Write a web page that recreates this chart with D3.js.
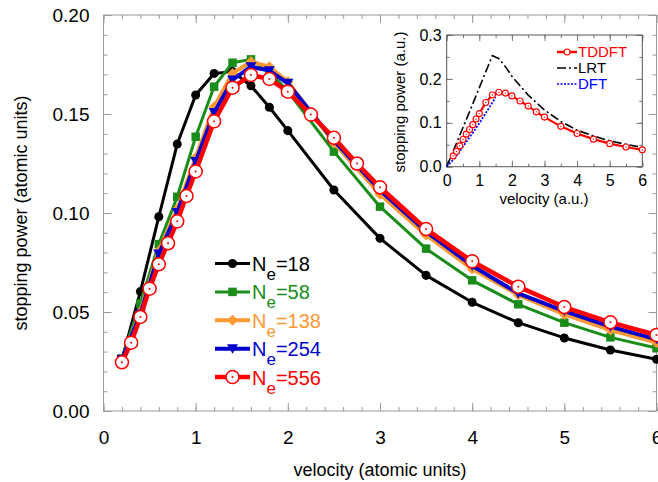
<!DOCTYPE html>
<html>
<head>
<meta charset="utf-8">
<script src="https://d3js.org/d3.v7.min.js"></script>
<style>
  body { margin: 0; background: #fff; }
  svg { display: block; font-family: "Liberation Sans", Arial, Helvetica, sans-serif; }
</style>
</head>
<body>
<script>
"use strict";
/* velocities (atomic units) */
var vFine = [0.2, 0.3, 0.4, 0.5, 0.6, 0.7, 0.8, 0.9, 1.0, 1.2, 1.4, 1.6, 1.8, 2.0, 2.25, 2.5, 2.75, 3.0, 3.5, 4.0, 4.5, 5.0, 5.5, 6.0];
var vCoarse = [0.2, 0.4, 0.6, 0.8, 1.0, 1.2, 1.4, 1.6, 1.8, 2.0, 2.5, 3.0, 3.5, 4.0, 4.5, 5.0, 5.5, 6.0];

/* stopping power for each electron count */
var sp18  = [0.026, 0.0603, 0.0981, 0.1348, 0.1596, 0.1705, 0.1714, 0.1643, 0.1534, 0.1416, 0.1116, 0.0872, 0.0685, 0.0549, 0.0446, 0.0369, 0.0308, 0.0261];
var sp58  = [0.0266, 0.0544, 0.0843, 0.1082, 0.1385, 0.1638, 0.1759, 0.1776, 0.1715, 0.1615, 0.131, 0.1032, 0.082, 0.066, 0.0539, 0.0446, 0.0372, 0.0318];
var sp138 = [0.026, 0.050, 0.0808, 0.102, 0.128, 0.1537, 0.1705, 0.1764, 0.1739, 0.1663, 0.1355, 0.1095, 0.0889, 0.0717, 0.0586, 0.0488, 0.0409, 0.0345];
var sp254 = [0.026, 0.049, 0.0793, 0.1003, 0.126, 0.1507, 0.1672, 0.1739, 0.1719, 0.1655, 0.1365, 0.1115, 0.0906, 0.0734, 0.0594, 0.0505, 0.0426, 0.0362];
var sp556 = [0.0246, 0.0345, 0.0475, 0.0618, 0.0741, 0.0847, 0.0958, 0.1086, 0.121, 0.1463, 0.1633, 0.1697, 0.1677, 0.1613, 0.1497, 0.138, 0.125, 0.113, 0.0919, 0.0756, 0.0628, 0.0525, 0.0448, 0.0384];

/* inset: linear response and DFT */
var lrtV = [0, 0.7, 1.4, 1.6, 1.8, 2.0, 2.5, 3.0, 3.5, 4.0, 4.5, 5.0, 5.5, 6.0];
var lrtS = [0, 0.125, 0.253, 0.246, 0.228, 0.206, 0.163, 0.129, 0.103, 0.083, 0.07, 0.059, 0.051, 0.044];
var dftV = [0, 0.25, 0.5, 0.75, 1.0, 1.25, 1.5];
var dftS = [0, 0.02, 0.046, 0.072, 0.099, 0.128, 0.158];

var seriesNames = ["18", "58", "138", "254", "556"];
var seriesColors = ["#000000", "#1a8c1a", "#ff9933", "#0000cc", "#ff0000"];
var xTicks = [0, 1, 2, 3, 4, 5, 6];
var yTicks = [0, 0.05, 0.10, 0.15, 0.20];
var insetYTicks = [0, 0.1, 0.2, 0.3];
var insetLegend = ["TDDFT", "LRT", "DFT"];

var width = 658, height = 482;
var svg = d3.select("body").append("svg").attr("width", width).attr("height", height);

function zip(v, s) { return v.map(function (d, i) { return [d, s[i]]; }); }

/* draws a boxed frame with inward ticks on all four sides */
function drawFrame(g, xs, ys, o) {
    var x0 = xs.range()[0], x1 = xs.range()[1];
    var y0 = ys.range()[0], y1 = ys.range()[1];
    var sides = [
        [d3.axisBottom(xs), "translate(0," + y0 + ")", o.xMinor, o.xMajor],
        [d3.axisTop(xs), "translate(0," + y1 + ")", o.xMinor, o.xMajor],
        [d3.axisLeft(ys), "translate(" + x0 + ",0)", o.yMinor, o.yMajor],
        [d3.axisRight(ys), "translate(" + x1 + ",0)", o.yMinor, o.yMajor]
    ];
    sides.forEach(function (s) {
        var ax = s[0];
        var gm = g.append("g").attr("transform", s[1])
            .call(ax.tickValues(s[2]).tickSize(-o.minorLen).tickFormat(""));
        gm.select(".domain").remove();
        gm.selectAll("line").attr("stroke", o.tickColor);
        var gM = g.append("g").attr("transform", s[1])
            .call(ax.tickValues(s[3]).tickSize(-o.majorLen).tickFormat(""));
        gM.select(".domain").remove();
        gM.selectAll("line").attr("stroke", o.tickColor);
    });
    g.append("rect").attr("x", x0).attr("y", y1)
        .attr("width", x1 - x0).attr("height", y0 - y1)
        .attr("fill", "none").attr("stroke", o.frameColor).attr("stroke-width", 1);

    var bl = g.append("g").attr("transform", "translate(0," + y0 + ")")
        .call(d3.axisBottom(xs).tickValues(o.xMajor).tickSize(0).tickPadding(o.xPad).tickFormat(o.xFmt));
    bl.select(".domain").remove();
    bl.selectAll("text").attr("font-size", o.font).attr("fill", "#000")
        .attr("font-family", "Liberation Sans, Arial, sans-serif");
    var ll = g.append("g").attr("transform", "translate(" + x0 + ",0)")
        .call(d3.axisLeft(ys).tickValues(o.yMajor).tickSize(0).tickPadding(o.yPad).tickFormat(o.yFmt));
    ll.select(".domain").remove();
    ll.selectAll("text").attr("font-size", o.font).attr("fill", "#000")
        .attr("font-family", "Liberation Sans, Arial, sans-serif");
}

function markerPath(i) {
    if (i === 0) return d3.symbol().type(d3.symbolCircle).size(64)();
    if (i === 1) return d3.symbol().type(d3.symbolSquare).size(72)();
    if (i === 2) { var a = 5.5; return "M0," + (-a) + "L" + a + ",0L0," + a + "L" + (-a) + ",0Z"; }
    if (i === 3) { return "M-5.5,-4.5L5.5,-4.5L0,5Z"; }
    return null;
}

function drawMarker(g, i, px, py) {
    if (i === 4) {
        g.append("circle").attr("cx", px).attr("cy", py).attr("r", 6.5)
            .attr("fill", "#fff").attr("stroke", seriesColors[4]).attr("stroke-width", 1.5);
        g.append("circle").attr("cx", px).attr("cy", py).attr("r", 1)
            .attr("fill", seriesColors[4]);
    } else {
        g.append("path").attr("d", markerPath(i))
            .attr("transform", "translate(" + px + "," + py + ")")
            .attr("fill", seriesColors[i]);
    }
}

/* ---------- main chart ---------- */
var x = d3.scaleLinear().domain([0, 6]).range([103.5, 656.5]);
var y = d3.scaleLinear().domain([0, 0.2]).range([411, 15]);

var main = svg.append("g");
drawFrame(main, x, y, {
    xMajor: xTicks, xMinor: d3.range(0, 6.01, 0.2),
    yMajor: yTicks, yMinor: d3.range(0, 0.2001, 0.01),
    majorLen: 8, minorLen: 4, tickColor: "#999", frameColor: "#999",
    font: "19px", xPad: 20, yPad: 14,
    xFmt: d3.format("d"), yFmt: d3.format(".2f")
});

main.append("text").attr("x", 380).attr("y", 470).attr("dy", "0.35em")
    .attr("text-anchor", "middle").attr("font-size", "18px").text("velocity (atomic units)");
main.append("text").attr("transform", "translate(21,213) rotate(-90)").attr("dy", "0.35em")
    .attr("text-anchor", "middle").attr("font-size", "18px").text("stopping power (atomic units)");

var allSeries = [zip(vCoarse, sp18), zip(vCoarse, sp58), zip(vCoarse, sp138), zip(vCoarse, sp254), zip(vFine, sp556)];
var lineWidths = [3, 3, 4, 4, 4.5];
var line = d3.line().x(function (d) { return x(d[0]); }).y(function (d) { return y(d[1]); });

allSeries.forEach(function (data, i) {
    var g = main.append("g");
    g.append("path").datum(data).attr("d", line)
        .attr("fill", "none").attr("stroke", seriesColors[i])
        .attr("stroke-width", lineWidths[i]).attr("stroke-linejoin", "round");
    data.forEach(function (d) { drawMarker(g, i, x(d[0]), y(d[1])); });
});

/* legend */
var leg = main.append("g");
seriesNames.forEach(function (n, i) {
    var ry = 263.5 + i * 28.4;
    leg.append("line").attr("x1", 215).attr("x2", 250).attr("y1", ry).attr("y2", ry)
        .attr("stroke", seriesColors[i]).attr("stroke-width", lineWidths[i]);
    drawMarker(leg, i, 232.5, ry);
    var t = leg.append("text").attr("x", 252).attr("y", ry + 7.5)
        .attr("fill", seriesColors[i]).attr("font-size", "20px");
    t.append("tspan").text("N");
    t.append("tspan").attr("dy", 9).attr("font-size", "17px").text("e");
    t.append("tspan").attr("dy", -9).text("=" + n);
});

/* ---------- inset ---------- */
var xi = d3.scaleLinear().domain([0, 6]).range([446.7, 642.3]);
var yi = d3.scaleLinear().domain([0, 0.3]).range([166.7, 35]);
var inset = svg.append("g");
inset.append("rect").attr("x", 446.7).attr("y", 35).attr("width", 195.6).attr("height", 131.7).attr("fill", "#fff");
drawFrame(inset, xi, yi, {
    xMajor: xTicks, xMinor: d3.range(0, 6.01, 0.5),
    yMajor: insetYTicks, yMinor: d3.range(0, 0.301, 0.05),
    majorLen: 6, minorLen: 3, tickColor: "#777", frameColor: "#555",
    font: "16px", xPad: 8, yPad: 5,
    xFmt: d3.format("d"), yFmt: d3.format(".1f")
});
inset.append("text").attr("x", 544).attr("y", 199).attr("dy", "0.35em")
    .attr("text-anchor", "middle").attr("font-size", "15px").text("velocity (a.u.)");
inset.append("text").attr("transform", "translate(400,102) rotate(-90)").attr("dy", "0.35em")
    .attr("text-anchor", "middle").attr("font-size", "15px").text("stopping power (a.u.)");

var linei = d3.line().x(function (d) { return xi(d[0]); }).y(function (d) { return yi(d[1]); });
inset.append("path").datum(zip(lrtV, lrtS)).attr("d", linei)
    .attr("fill", "none").attr("stroke", "#000").attr("stroke-width", 1.6)
    .attr("stroke-dasharray", "9,3,2,3");
inset.append("path").datum(zip(dftV, dftS)).attr("d", linei)
    .attr("fill", "none").attr("stroke", "#0000ff").attr("stroke-width", 1.8)
    .attr("stroke-dasharray", "2,1.5");
inset.append("path").datum(zip(vFine, sp556)).attr("d", linei)
    .attr("fill", "none").attr("stroke", "#ff0000").attr("stroke-width", 2.2);
zip(vFine, sp556).forEach(function (d) {
    inset.append("circle").attr("cx", xi(d[0])).attr("cy", yi(d[1])).attr("r", 3)
        .attr("fill", "#fff").attr("stroke", "#ff0000").attr("stroke-width", 1.1);
    inset.append("circle").attr("cx", xi(d[0])).attr("cy", yi(d[1])).attr("r", 0.7).attr("fill", "#ff0000");
});

/* inset legend */
var legColors = ["#ff0000", "#000000", "#0000ff"];
var legDash = [null, "9,3,2,3", "2,1.5"];
insetLegend.forEach(function (n, i) {
    var ry = 52 + i * 16;
    inset.append("line").attr("x1", 557).attr("x2", 577).attr("y1", ry).attr("y2", ry)
        .attr("stroke", legColors[i]).attr("stroke-width", i === 0 ? 2.5 : 1.6)
        .attr("stroke-dasharray", legDash[i]);
    if (i === 0) {
        inset.append("circle").attr("cx", 567).attr("cy", ry).attr("r", 3)
            .attr("fill", "#fff").attr("stroke", "#ff0000").attr("stroke-width", 1.1);
    }
    inset.append("text").attr("x", 578).attr("y", ry).attr("dy", "0.36em")
        .attr("fill", legColors[i]).attr("font-size", "15px").text(n);
});
</script>
</body>
</html>
